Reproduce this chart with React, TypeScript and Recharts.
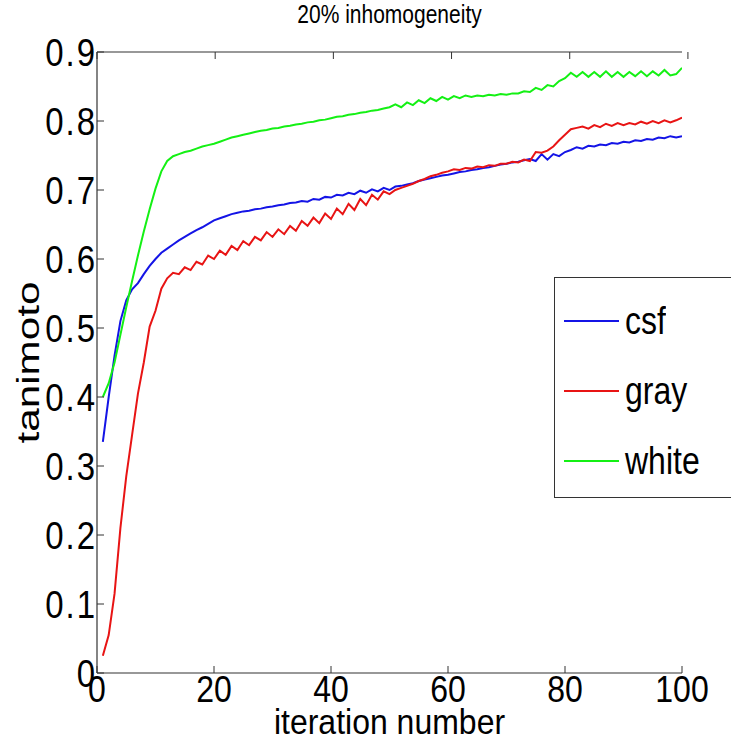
import React from 'react';
import { LineChart, Line, XAxis, YAxis, Legend } from 'recharts';

const FONT = 'Arial, "Liberation Sans", Helvetica, sans-serif';
const AXIS = '#333333';

const chartTitle = '20% inhomogeneity';
const xAxisTitle = 'iteration number';
const yAxisTitle = 'tanimoto';

const iterations = [
  1, 2, 3, 4, 5, 6, 7, 8, 9, 10, 11, 12, 13, 14, 15, 16, 17, 18, 19, 20,
  21, 22, 23, 24, 25, 26, 27, 28, 29, 30, 31, 32, 33, 34, 35, 36, 37, 38, 39, 40,
  41, 42, 43, 44, 45, 46, 47, 48, 49, 50, 51, 52, 53, 54, 55, 56, 57, 58, 59, 60,
  61, 62, 63, 64, 65, 66, 67, 68, 69, 70, 71, 72, 73, 74, 75, 76, 77, 78, 79, 80,
  81, 82, 83, 84, 85, 86, 87, 88, 89, 90, 91, 92, 93, 94, 95, 96, 97, 98, 99, 100,
];

const csf = [
  0.335, 0.400, 0.460, 0.510, 0.540, 0.556, 0.565, 0.578, 0.590, 0.600,
  0.609, 0.615, 0.621, 0.627, 0.632, 0.637, 0.642, 0.646, 0.651, 0.656,
  0.659, 0.662, 0.665, 0.667, 0.669, 0.670, 0.672, 0.673, 0.675, 0.676,
  0.678, 0.679, 0.681, 0.682, 0.684, 0.683, 0.687, 0.686, 0.690, 0.689,
  0.693, 0.692, 0.696, 0.694, 0.699, 0.696, 0.701, 0.698, 0.703, 0.700,
  0.705, 0.706, 0.708, 0.710, 0.713, 0.715, 0.717, 0.719, 0.721, 0.722,
  0.724, 0.726, 0.727, 0.729, 0.730, 0.732, 0.733, 0.735, 0.737, 0.738,
  0.740, 0.741, 0.743, 0.745, 0.742, 0.752, 0.744, 0.752, 0.749, 0.755,
  0.758, 0.762, 0.760, 0.764, 0.763, 0.766, 0.765, 0.768, 0.767, 0.770,
  0.769, 0.772, 0.771, 0.774, 0.773, 0.776, 0.775, 0.778, 0.776, 0.778,
];

const gray = [
  0.025, 0.055, 0.115, 0.210, 0.285, 0.345, 0.405, 0.450, 0.502, 0.525,
  0.557, 0.572, 0.580, 0.578, 0.588, 0.584, 0.596, 0.592, 0.605, 0.600,
  0.612, 0.606, 0.619, 0.613, 0.626, 0.620, 0.632, 0.627, 0.639, 0.632,
  0.643, 0.636, 0.648, 0.641, 0.655, 0.648, 0.660, 0.652, 0.666, 0.658,
  0.673, 0.665, 0.680, 0.671, 0.687, 0.678, 0.693, 0.686, 0.698, 0.694,
  0.700, 0.703, 0.706, 0.709, 0.713, 0.716, 0.720, 0.722, 0.725, 0.727,
  0.730, 0.729, 0.732, 0.731, 0.734, 0.733, 0.736, 0.735, 0.738, 0.738,
  0.741, 0.740, 0.744, 0.742, 0.755, 0.754, 0.757, 0.763, 0.772, 0.780,
  0.788, 0.790, 0.792, 0.789, 0.794, 0.791, 0.796, 0.793, 0.797, 0.794,
  0.797, 0.795, 0.799, 0.796, 0.800, 0.797, 0.801, 0.798, 0.801, 0.805,
];

const white = [
  0.400, 0.420, 0.450, 0.490, 0.530, 0.568, 0.605, 0.640, 0.672, 0.702,
  0.727, 0.742, 0.749, 0.752, 0.755, 0.757, 0.760, 0.763, 0.765, 0.767,
  0.770, 0.773, 0.776, 0.778, 0.780, 0.782, 0.784, 0.786, 0.787, 0.789,
  0.790, 0.792, 0.793, 0.795, 0.796, 0.798, 0.799, 0.801, 0.802, 0.804,
  0.806, 0.807, 0.809, 0.810, 0.812, 0.813, 0.815, 0.816, 0.818, 0.820,
  0.824, 0.820, 0.827, 0.823, 0.830, 0.826, 0.833, 0.829, 0.835, 0.831,
  0.836, 0.833, 0.837, 0.835, 0.837, 0.836, 0.838, 0.837, 0.839, 0.838,
  0.840, 0.840, 0.843, 0.842, 0.848, 0.845, 0.852, 0.850, 0.858, 0.862,
  0.870, 0.864, 0.871, 0.864, 0.871, 0.864, 0.872, 0.864, 0.871, 0.864,
  0.871, 0.865, 0.872, 0.865, 0.872, 0.866, 0.874, 0.866, 0.868, 0.877,
];

const xTicks = [0, 20, 40, 60, 80, 100];
const yTicks = [0, 0.1, 0.2, 0.3, 0.4, 0.5, 0.6, 0.7, 0.8, 0.9];

const series = [
  { key: 'csf', color: '#1414e6' },
  { key: 'gray', color: '#e81414' },
  { key: 'white', color: '#14f014' },
];

const data = iterations.map((it, i) => ({
  iter: it,
  csf: csf[i],
  gray: gray[i],
  white: white[i],
}));

const TICK_LEN = 7;
const TICK_FS = 32;
const STRETCH = 1.2;

const StretchText = (p: { x: number; y: number; anchor: string; size: number; sy?: number; spacing?: number; children: any }) => (
  <text
    transform={`translate(${p.x}, ${p.y}) scale(1, ${p.sy ?? STRETCH})`}
    x={0}
    y={0}
    textAnchor={p.anchor as any}
    fontSize={p.size}
    fontFamily={FONT}
    letterSpacing={p.spacing ?? 0}
    fill="#000"
  >
    {p.children}
  </text>
);

const BottomTick = (p: any) => (
  <g>
    <line x1={p.x} y1={p.y} x2={p.x} y2={p.y - TICK_LEN} stroke={AXIS} strokeWidth={1} />
    <StretchText x={p.x} y={p.y + 29} anchor="middle" size={TICK_FS} sy={1.17}>
      {p.payload.value}
    </StretchText>
  </g>
);

const TopTick = (p: any) => (
  <line x1={p.x} y1={p.y} x2={p.x} y2={p.y + TICK_LEN} stroke={AXIS} strokeWidth={1} />
);

const LeftTick = (p: any) => (
  <g>
    <line x1={p.x} y1={p.y} x2={p.x + TICK_LEN} y2={p.y} stroke={AXIS} strokeWidth={1} />
    <StretchText x={p.x} y={p.y + 13.5} anchor="end" size={33} sy={1.15} spacing={2}>
      {p.payload.value}
    </StretchText>
  </g>
);

const RightTick = (p: any) => (
  <line x1={p.x} y1={p.y} x2={p.x - TICK_LEN} y2={p.y} stroke={AXIS} strokeWidth={1} />
);

const XLabel = (p: any) => {
  const vb = p.viewBox || { x: 97, y: 673, width: 585, height: 69 };
  return (
    <StretchText x={vb.x + vb.width / 2} y={vb.y + 61} anchor="middle" size={32} sy={1.12}>
      {xAxisTitle}
    </StretchText>
  );
};

const YLabel = (p: any) => {
  const vb = p.viewBox || { x: 0, y: 52, width: 97, height: 621 };
  const cx = vb.x + 39;
  const cy = vb.y + vb.height / 2;
  return (
    <text
      transform={`translate(${cx}, ${cy}) scale(1, 1.32) rotate(-90)`}
      x={0}
      y={0}
      textAnchor="middle"
      fontSize={32}
      fontFamily={FONT}
      fill="#000"
    >
      {yAxisTitle}
    </text>
  );
};

const TitleLabel = (p: any) => {
  const vb = p.viewBox || { x: 97, y: 52, width: 585, height: 0 };
  return (
    <StretchText x={vb.x + vb.width / 2} y={23} anchor="middle" size={21}>
      {chartTitle}
    </StretchText>
  );
};

const LegendBox = (props: any) => {
  const payload = props.payload || [];
  return (
    <div
      style={{
        position: 'relative',
        width: 200,
        height: 221,
        border: `1px solid ${AXIS}`,
        boxSizing: 'border-box',
        background: '#fff',
        fontFamily: FONT,
      }}
    >
      {payload.map((entry: any, i: number) => (
        <div
          key={entry.value}
          style={{ position: 'absolute', left: 9, top: 43 + i * 70 - 20, height: 40, display: 'flex', alignItems: 'center' }}
        >
          <div style={{ width: 55, height: 2, background: entry.color }} />
          <span
            style={{
              marginLeft: 6,
              fontSize: 32,
              color: '#000',
              lineHeight: '40px',
              display: 'inline-block',
              transform: `scaleY(${STRETCH})`,
            }}
          >
            {entry.value}
          </span>
        </div>
      ))}
    </div>
  );
};

export default function App() {
  return (
    <div style={{ position: 'absolute', left: 0, top: 0, width: 731, height: 742, overflow: 'hidden', background: '#fff' }}>
      <LineChart width={731} height={742} data={data} margin={{ top: 51, right: 49, bottom: 0, left: 0 }}>
        <XAxis
          dataKey="iter"
          type="number"
          domain={[0, 100]}
          ticks={xTicks}
          interval={0}
          height={69}
          tickSize={0}
          tickMargin={0}
          tickLine={false}
          axisLine={{ stroke: AXIS, strokeWidth: 1.2 }}
          tick={BottomTick}
          label={{ content: XLabel }}
          allowDataOverflow
        />
        <XAxis
          xAxisId="top"
          orientation="top"
          type="number"
          domain={[0, 100]}
          ticks={xTicks}
          interval={0}
          height={1}
          tickSize={0}
          tickMargin={0}
          tickLine={false}
          axisLine={{ stroke: AXIS, strokeWidth: 1.2 }}
          tick={TopTick}
          label={{ content: TitleLabel }}
          allowDataOverflow
        />
        <YAxis
          type="number"
          domain={[0, 0.9]}
          ticks={yTicks}
          interval={0}
          width={97}
          tickSize={0}
          tickMargin={0}
          tickLine={false}
          axisLine={{ stroke: AXIS, strokeWidth: 1.2 }}
          tick={LeftTick}
          label={{ content: YLabel }}
          allowDataOverflow
        />
        <YAxis
          yAxisId="right"
          orientation="right"
          type="number"
          domain={[0, 0.9]}
          ticks={yTicks}
          interval={0}
          width={0}
          tickSize={0}
          tickMargin={0}
          tickLine={false}
          axisLine={{ stroke: AXIS, strokeWidth: 1.2 }}
          tick={RightTick}
          allowDataOverflow
        />
        <Legend
          layout="horizontal"
          verticalAlign="middle"
          align="center"
          wrapperStyle={{ left: 554, top: 277, width: 200, height: 221 }}
          content={LegendBox}
        />
        {series.map((s) => (
          <Line
            key={s.key}
            type="linear"
            dataKey={s.key}
            name={s.key}
            stroke={s.color}
            strokeWidth={2}
            dot={false}
            activeDot={false}
            isAnimationActive={false}
          />
        ))}
      </LineChart>
    </div>
  );
}
